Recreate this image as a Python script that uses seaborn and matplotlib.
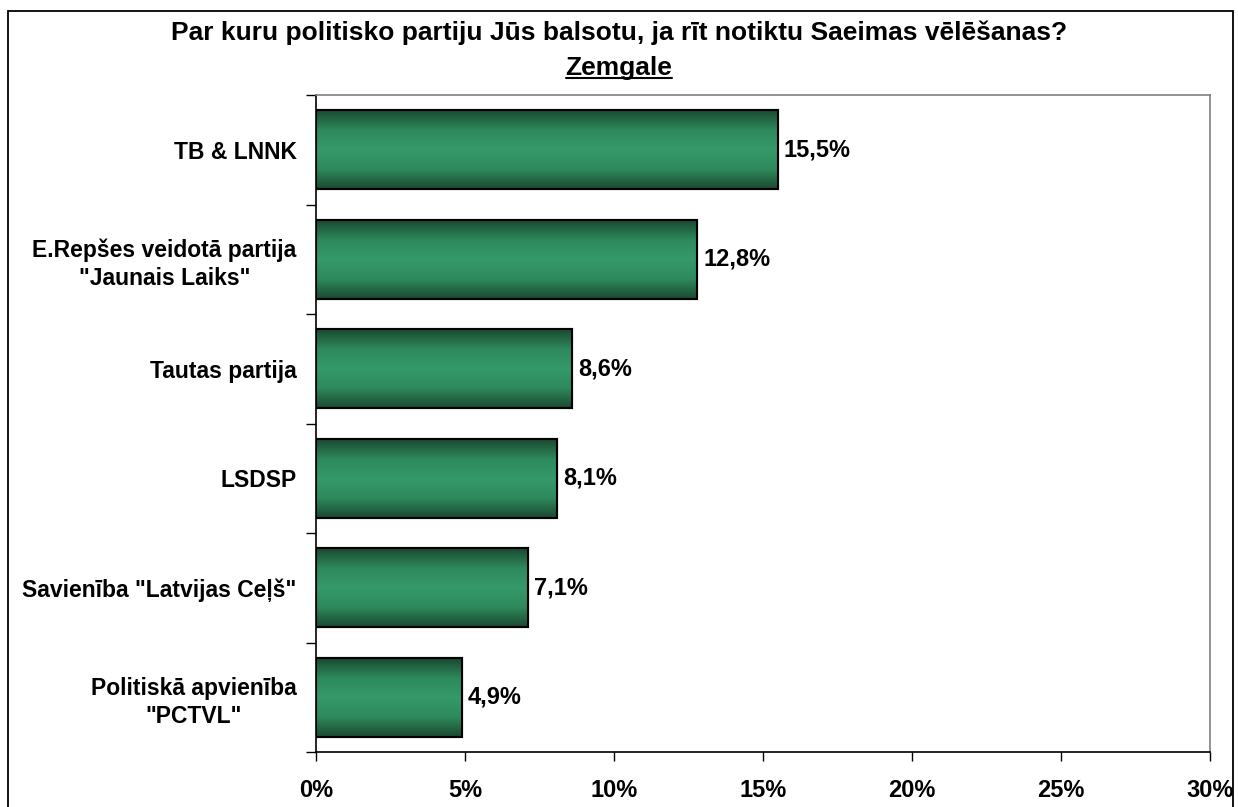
import numpy as np
import pandas as pd
import seaborn as sns
import matplotlib
matplotlib.use("Agg")
from matplotlib import pyplot as plt
from matplotlib.colors import LinearSegmentedColormap
from matplotlib.patches import Rectangle

parties = ['TB & LNNK',
           'E.Repšes veidotā partija\n"Jaunais Laiks"',
           'Tautas partija',
           'LSDSP',
           'Savienība "Latvijas Ceļš"',
           'Politiskā apvienība\n"PCTVL"']
shares = [15.5, 12.8, 8.6, 8.1, 7.1, 4.9]
ticks = [0, 5, 10, 15, 20, 25, 30]

sns.set_style("white")
plt.rcParams['font.family'] = ['Liberation Sans', 'DejaVu Sans']
plt.rcParams['font.weight'] = 'bold'
plt.rcParams['text.color'] = 'black'
plt.rcParams['xtick.color'] = 'black'
plt.rcParams['ytick.color'] = 'black'

df = pd.DataFrame({'party': parties, 'share': shares})

fig = plt.figure(figsize=(12.38, 8.07), dpi=100)
ax = fig.add_axes([316 / 1238, 1 - 752 / 807, (1210 - 316) / 1238, (752 - 95) / 807])

sns.barplot(data=df, x='share', y='party', orient='h', color='#339966',
            width=0.72, edgecolor='black', linewidth=1.5, ax=ax)

# gradient fill, dark at edges and lighter in the middle
cmap = LinearSegmentedColormap.from_list('g', ['#1b4a32', '#2e8a5c', '#35996a', '#2e8a5c', '#1b4a32'])
grad = np.linspace(0, 1, 64).reshape(-1, 1)
for bar in ax.patches:
    x0, y0 = bar.get_x(), bar.get_y()
    w, h = bar.get_width(), bar.get_height()
    im = ax.imshow(grad, cmap=cmap, aspect='auto', extent=[x0, x0 + w, y0 + h, y0],
                   zorder=bar.get_zorder() + 0.1, interpolation='bicubic')
    im.set_clip_path(bar)
    edge = Rectangle((x0, y0), w, h, fill=False, edgecolor='black', linewidth=1.5,
                     zorder=bar.get_zorder() + 0.2)
    ax.add_patch(edge)
    ax.text(x0 + w + 0.2, y0 + h / 2, f'{w:.1f}%'.replace('.', ','), va='center', ha='left',
            fontsize=17, fontweight='bold', color='black')

ax.set_xlim(0, 30)
ax.set_ylim(len(parties) - 0.5, -0.5)
ax.set_xticks(ticks)
ax.set_xticklabels([f'{t}%' for t in ticks], fontsize=17, fontweight='bold')
ax.set_yticks(range(len(parties)))
ax.set_yticklabels(parties, fontsize=16.5, fontweight='bold', multialignment='center',
                   linespacing=1.3)
ax.set_yticks(np.arange(-0.5, len(parties), 1), minor=True)
ax.tick_params(axis='y', which='major', length=0, pad=14)
ax.tick_params(axis='y', which='minor', length=7, width=1, color='black', direction='out', left=True)
ax.tick_params(axis='x', which='major', length=6.5, width=1, color='black', direction='out', bottom=True, pad=13)
ax.set_xlabel('')
ax.set_ylabel('')

for side in ['left', 'bottom']:
    ax.spines[side].set_color('black')
    ax.spines[side].set_linewidth(1.2)
for side in ['top', 'right']:
    ax.spines[side].set_color('#808080')
    ax.spines[side].set_linewidth(1.2)

fig.text(0.5, 1 - 33 / 807, 'Par kuru politisko partiju Jūs balsotu, ja rīt notiktu Saeimas vēlēšanas?',
         ha='center', va='center', fontsize=19, fontweight='bold', color='black')
sub = fig.text(0.5, 1 - 68 / 807, 'Zemgale', ha='center', va='center', fontsize=19,
               fontweight='bold', color='black')

fig.canvas.draw()
bb = sub.get_window_extent().transformed(fig.transFigure.inverted())
fig.add_artist(plt.Line2D([bb.x0, bb.x1], [bb.y0 + 0.002, bb.y0 + 0.002], transform=fig.transFigure,
                          color='black', linewidth=1.5))

fig.patches.append(Rectangle((8 / 1238, -0.01), (1233 - 8) / 1238, 1 - 11 / 807 + 0.01,
                             transform=fig.transFigure, fill=False, edgecolor='black',
                             linewidth=1.3, figure=fig))

fig.savefig('out.png', dpi=100)
